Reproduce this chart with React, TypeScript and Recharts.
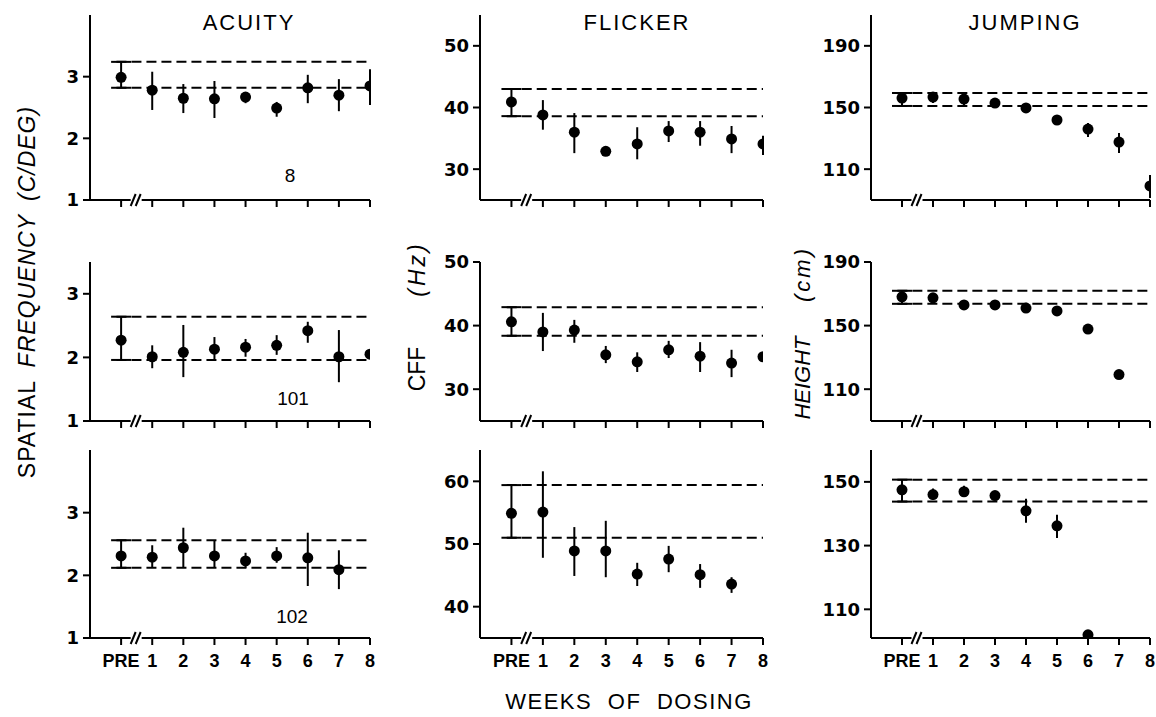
import React from 'react';
import { ScatterChart, Scatter, XAxis, YAxis, ErrorBar, ReferenceLine, ReferenceDot } from 'recharts';

const WEEKS = [0, 1, 2, 3, 4, 5, 6, 7, 8];
const WEEK_LABELS = ['PRE', '1', '2', '3', '4', '5', '6', '7', '8'];

// animal 8
const acuity8 = [2.99, 2.78, 2.65, 2.64, 2.67, 2.49, 2.82, 2.7, 2.85];
const acuity8Lo = [2.82, 2.46, 2.41, 2.33, 2.57, 2.35, 2.57, 2.44, 2.54];
const acuity8Hi = [3.24, 3.08, 2.88, 2.93, 2.75, 2.59, 3.03, 2.96, 3.12];
const acuity8Band = [2.82, 3.24];

const flicker8 = [40.9, 38.8, 36.0, 32.9, 34.1, 36.2, 36.0, 34.9, 34.1];
const flicker8Lo = [38.6, 36.4, 32.6, 32.3, 31.6, 34.4, 33.8, 32.6, 32.3];
const flicker8Hi = [43.0, 41.2, 39.1, 33.4, 36.8, 37.8, 37.8, 37.0, 35.4];
const flicker8Band = [38.6, 43.0];

const jump8 = [156.1, 156.8, 155.5, 152.9, 149.7, 141.9, 136, 127.6, 99.1];
const jump8Lo = [151, 153, 151, 152.9, 149.7, 141.9, 130.9, 120.5, 91.3];
const jump8Hi = [159.4, 159.4, 159.4, 152.9, 149.7, 141.9, 140, 133.4, 106.2];
const jump8Band = [151, 159.4];

// animal 101
const acuity101 = [2.27, 2.01, 2.08, 2.13, 2.16, 2.19, 2.42, 2.01, 2.05];
const acuity101Lo = [1.96, 1.83, 1.69, 1.96, 2.01, 2.04, 2.23, 1.61, 2.05];
const acuity101Hi = [2.64, 2.19, 2.51, 2.32, 2.29, 2.35, 2.56, 2.43, 2.05];
const acuity101Band = [1.96, 2.64];

const flicker101 = [40.6, 39.0, 39.3, 35.4, 34.3, 36.2, 35.2, 34.1, 35.1];
const flicker101Lo = [38.4, 36.0, 37.3, 34.1, 32.7, 34.9, 32.7, 31.9, 35.1];
const flicker101Hi = [42.9, 42.0, 40.9, 36.8, 35.8, 37.6, 37.4, 36.2, 35.1];
const flicker101Band = [38.4, 42.9];

const jump101 = [168.1, 167.5, 163, 163, 161, 159.2, 147.8, 119.2];
const jump101Lo = [163.7, 167.5, 163, 163, 161, 159.2, 147.8, 119.2];
const jump101Hi = [171.9, 167.5, 163, 163, 161, 159.2, 147.8, 119.2];
const jump101Band = [163.7, 171.9];

// animal 102
const acuity102 = [2.31, 2.29, 2.44, 2.31, 2.23, 2.31, 2.28, 2.09];
const acuity102Lo = [2.12, 2.12, 2.13, 2.12, 2.12, 2.2, 1.83, 1.78];
const acuity102Hi = [2.56, 2.48, 2.76, 2.56, 2.36, 2.45, 2.68, 2.4];
const acuity102Band = [2.12, 2.56];

const flicker102 = [54.9, 55.1, 48.9, 48.9, 45.2, 47.6, 45.1, 43.6];
const flicker102Lo = [51.0, 47.8, 44.9, 44.7, 43.3, 45.5, 43.0, 42.2];
const flicker102Hi = [59.4, 61.6, 52.7, 53.7, 47.0, 49.7, 46.8, 44.7];
const flicker102Band = [51.0, 59.4];

const jump102 = [147.5, 146.0, 146.9, 145.7, 140.9, 136.2, 102];
const jump102Lo = [143.8, 144.4, 145.3, 145.7, 137.2, 132.4, 102];
const jump102Hi = [150.7, 147.9, 148.8, 145.7, 144.7, 139.7, 102];
const jump102Band = [143.8, 150.7];

const ACUITY_TICKS = [1, 2, 3];
const FLICKER_TICKS = [30, 40, 50];
const FLICKER_TICKS_LOW = [40, 50, 60];
const JUMP_TICKS = [110, 150, 190];
const JUMP_TICKS_LOW = [110, 130, 150];

const TICK_FONT = '"DejaVu Sans", sans-serif';
const LABEL_FONT = '"Liberation Sans", Arial, sans-serif';
const TOP_PAD = 14;

const Dot = (props: any) => <circle cx={props.cx} cy={props.cy} r={5.5} fill="#000" />;

const BreakMark = (props: any) => {
  const { cx, cy } = props;
  if (cx == null || cy == null) return null;
  return (
    <g>
      <rect x={cx - 6} y={cy - 2} width={11} height={4} fill="#fff" />
      <line x1={cx - 6} y1={cy + 6} x2={cx - 1} y2={cy - 6} stroke="#000" strokeWidth={2} />
      <line x1={cx - 1} y1={cy + 6} x2={cx + 4} y2={cy - 6} stroke="#000" strokeWidth={2} />
    </g>
  );
};

interface PanelProps {
  x: number;
  y: number;
  w: number;
  h: number;
  domain: number[];
  ticks: number[];
  mean: number[];
  lo: number[];
  hi: number[];
  band: number[];
  labels?: boolean;
}

function Panel({ x, y, w, h, domain, ticks, mean, lo, hi, band, labels }: PanelProps) {
  const rows = mean.map((v, i) => ({ week: WEEKS[i], value: v, err: [v - lo[i], hi[i] - v] }));
  const xh = labels ? 40 : 12;
  return (
    <div style={{ position: 'absolute', left: x - 60, top: y - TOP_PAD }}>
      <ScatterChart width={60 + w + 12} height={TOP_PAD + h + xh} margin={{ top: TOP_PAD, right: 12, bottom: 0, left: 0 }}>
        <XAxis
          type="number"
          dataKey="week"
          domain={[-1, 8]}
          ticks={WEEKS}
          interval={0}
          allowDataOverflow
          height={xh}
          tickFormatter={(v: number) => (labels ? WEEK_LABELS[v] : '')}
          axisLine={{ stroke: '#000', strokeWidth: 2 }}
          tickLine={{ stroke: '#000', strokeWidth: 2 }}
          tickSize={7}
          tickMargin={9}
          tick={{ fill: '#000', fontSize: 18, fontWeight: 'bold', fontFamily: '"Liberation Sans Narrow", "Liberation Sans", sans-serif' }}
        />
        <YAxis
          type="number"
          dataKey="value"
          domain={domain}
          ticks={ticks}
          interval={0}
          allowDataOverflow
          width={60}
          axisLine={{ stroke: '#000', strokeWidth: 2 }}
          tickLine={{ stroke: '#000', strokeWidth: 2 }}
          tickSize={7}
          tickMargin={4}
          tick={{ fill: '#000', fontSize: 18, fontWeight: 'bold', fontFamily: TICK_FONT }}
        />
        {band.map((b, i) => (
          <ReferenceLine
            key={i}
            segment={[{ x: -0.15, y: b }, { x: 8, y: b }]}
            stroke="#000"
            strokeWidth={2}
            strokeDasharray="10 5"
          />
        ))}
        <ReferenceDot x={0.5} y={domain[0]} shape={BreakMark} />
        <Scatter data={rows.slice(0, 1)} shape={Dot} isAnimationActive={false}>
          <ErrorBar dataKey="err" direction="y" width={10} stroke="#000" strokeWidth={2} isAnimationActive={false} />
        </Scatter>
        <Scatter data={rows.slice(1)} shape={Dot} isAnimationActive={false}>
          <ErrorBar dataKey="err" direction="y" width={0} stroke="#000" strokeWidth={2} isAnimationActive={false} />
        </Scatter>
      </ScatterChart>
    </div>
  );
}

const COLS = [
  { x: 90, w: 280 },
  { x: 480, w: 283 },
  { x: 871, w: 279 },
];
const ROWS = [
  { y: 15, h: 185 },
  { y: 262, h: 159 },
  { y: 450, h: 188 },
];

export default function App() {
  return (
    <div style={{ position: 'absolute', left: 0, top: 0, width: 1156, height: 717, background: '#fff', overflow: 'hidden' }}>
      <Panel {...COLS[0]} {...ROWS[0]} domain={[1, 4]} ticks={ACUITY_TICKS} mean={acuity8} lo={acuity8Lo} hi={acuity8Hi} band={acuity8Band} />
      <Panel {...COLS[1]} {...ROWS[0]} domain={[25, 55]} ticks={FLICKER_TICKS} mean={flicker8} lo={flicker8Lo} hi={flicker8Hi} band={flicker8Band} />
      <Panel {...COLS[2]} {...ROWS[0]} domain={[90, 210]} ticks={JUMP_TICKS} mean={jump8} lo={jump8Lo} hi={jump8Hi} band={jump8Band} />

      <Panel {...COLS[0]} {...ROWS[1]} domain={[1, 3.5]} ticks={ACUITY_TICKS} mean={acuity101} lo={acuity101Lo} hi={acuity101Hi} band={acuity101Band} />
      <Panel {...COLS[1]} {...ROWS[1]} domain={[25, 50]} ticks={FLICKER_TICKS} mean={flicker101} lo={flicker101Lo} hi={flicker101Hi} band={flicker101Band} />
      <Panel {...COLS[2]} {...ROWS[1]} domain={[90, 190]} ticks={JUMP_TICKS} mean={jump101} lo={jump101Lo} hi={jump101Hi} band={jump101Band} />

      <Panel {...COLS[0]} {...ROWS[2]} domain={[1, 4]} ticks={ACUITY_TICKS} mean={acuity102} lo={acuity102Lo} hi={acuity102Hi} band={acuity102Band} labels />
      <Panel {...COLS[1]} {...ROWS[2]} domain={[35, 65]} ticks={FLICKER_TICKS_LOW} mean={flicker102} lo={flicker102Lo} hi={flicker102Hi} band={flicker102Band} labels />
      <Panel {...COLS[2]} {...ROWS[2]} domain={[101, 160]} ticks={JUMP_TICKS_LOW} mean={jump102} lo={jump102Lo} hi={jump102Hi} band={jump102Band} labels />

      <svg width={1156} height={717} style={{ position: 'absolute', left: 0, top: 0, pointerEvents: 'none' }}>
        <g fontFamily={LABEL_FONT} fill="#000">
          <text x={249} y={30} fontSize={22} textAnchor="middle" letterSpacing={2}>ACUITY</text>
          <text x={637} y={30} fontSize={22} textAnchor="middle" letterSpacing={2}>FLICKER</text>
          <text x={1025} y={30} fontSize={22} textAnchor="middle" letterSpacing={2}>JUMPING</text>

          <text x={290} y={182} fontSize={19} textAnchor="middle">8</text>
          <text x={293} y={405} fontSize={19} textAnchor="middle">101</text>
          <text x={292} y={623} fontSize={19} textAnchor="middle">102</text>

          <text x={629} y={709} fontSize={22} textAnchor="middle" letterSpacing={1.5} wordSpacing={8}>WEEKS OF DOSING</text>

          <text transform="translate(35, 292) rotate(-90)" fontSize={23} textAnchor="middle" letterSpacing={1} wordSpacing={6}>
            <tspan>SPATIAL </tspan>
            <tspan fontStyle="italic">FREQUENCY (C/DEG)</tspan>
          </text>

          <text transform="translate(425, 369) rotate(-90)" fontSize={23} textAnchor="middle">CFF</text>
          <text transform="translate(425, 269) rotate(-90)" fontSize={23} textAnchor="middle" fontStyle="italic" letterSpacing={3}>(Hz)</text>

          <text transform="translate(810, 378) rotate(-90)" fontSize={22} textAnchor="middle" fontStyle="italic">HEIGHT</text>
          <text transform="translate(810, 274) rotate(-90)" fontSize={22} textAnchor="middle" fontStyle="italic" letterSpacing={3}>(cm)</text>
        </g>
      </svg>
    </div>
  );
}
